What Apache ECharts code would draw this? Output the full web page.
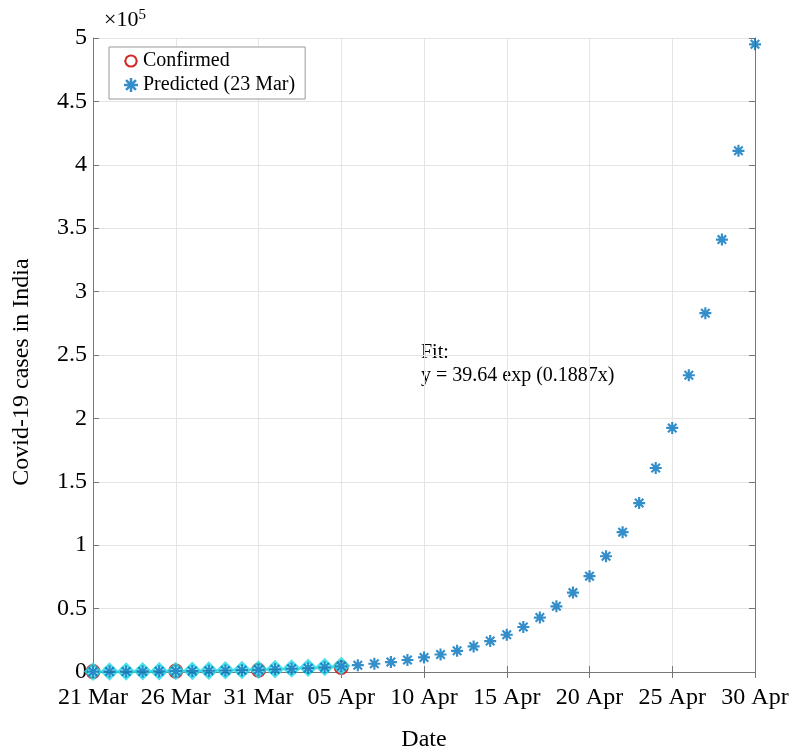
<!DOCTYPE html>
<html><head><meta charset="utf-8">
<script src="https://cdn.jsdelivr.net/npm/echarts@6/dist/echarts.min.js"></script>
<style>html,body{margin:0;padding:0;background:#fff}#c{width:789px;height:751px}</style>
</head><body><div id="c"></div>
<script>
// Dates 21 Mar .. 30 Apr
const dates = ["21 Mar","22 Mar","23 Mar","24 Mar","25 Mar","26 Mar","27 Mar","28 Mar","29 Mar","30 Mar","31 Mar",
"01 Apr","02 Apr","03 Apr","04 Apr","05 Apr","06 Apr","07 Apr","08 Apr","09 Apr","10 Apr","11 Apr","12 Apr","13 Apr",
"14 Apr","15 Apr","16 Apr","17 Apr","18 Apr","19 Apr","20 Apr","21 Apr","22 Apr","23 Apr","24 Apr","25 Apr","26 Apr",
"27 Apr","28 Apr","29 Apr","30 Apr"];
const confirmed = [330,396,499,536,657,727,887,987,1024,1251,1397,1998,2543,2567,3082,3588];
const earlyFit = [300,360,430,520,620,750,900,1080,1300,1560,1880,2260,2720,3270,3930,4730];
const predicted = [260,320,380,460,560,670,810,980,1190,1430,1730,2090,2530,3050,3690,4450,5380,6500,7850,9480,
11500,13800,16700,20200,24400,29400,35500,42900,51800,62600,75600,91300,110300,133200,160900,192500,234000,283000,341000,411000,495000];
const yTicks = [0,0.5,1,1.5,2,2.5,3,3.5,4,4.5,5];

const FONT = '"Liberation Serif","DejaVu Serif",serif';
// asterisk symbol path (8 arms)
function starPath(){
  const w=0.09, L=0.5; let p='';
  for (const a of [0,45,90,135]) {
    const r=a*Math.PI/180, c=Math.cos(r), s=Math.sin(r);
    const pts=[[-L,-w],[L,-w],[L,w],[-L,w]].map(([x,y])=>[(x*c-y*s+0.5).toFixed(3),(x*s+y*c+0.5).toFixed(3)]);
    p+='M'+pts.map(q=>q.join(' ')).join(' L')+' Z ';
  }
  return 'path://'+p;
}
const STAR = starPath();
const chart = echarts.init(document.getElementById('c'));
const axisCol = '#777';
chart.setOption({
  animation:false,
  textStyle:{fontFamily:FONT},
  grid:{left:93,right:34,top:38,bottom:79,containLabel:false,outerBoundsMode:'none'},
  legend:{
    orient:'vertical', left:109, top:47, padding:[4,10,4,14], itemGap:4,
    borderColor:'#999', borderWidth:1, backgroundColor:'#fff',
    itemWidth:14, itemHeight:14,
    textStyle:{fontFamily:FONT,fontSize:20,color:'#000'},
    data:['Confirmed','Predicted (23 Mar)']
  },
  xAxis:[{
    type:'category', data:dates, boundaryGap:false,
    name:'Date', nameLocation:'middle', nameGap:56,
    nameTextStyle:{fontFamily:FONT,fontSize:24,color:'#000'},
    axisLine:{lineStyle:{color:axisCol}},
    axisTick:{inside:true, interval:4, length:6, lineStyle:{color:axisCol}},
    axisLabel:{interval:4, fontFamily:FONT, fontSize:24, color:'#000', margin:14},
    splitLine:{show:true, interval:4, lineStyle:{color:'#e4e4e4'}}
  },{
    type:'category', data:dates, boundaryGap:false, position:'top',
    axisLine:{lineStyle:{color:axisCol}},
    axisTick:{inside:true, interval:4, length:6, lineStyle:{color:axisCol}},
    axisLabel:{show:false}, splitLine:{show:false}
  }],
  yAxis:[{
    type:'value', min:0, max:500000, interval:50000,
    axisLine:{show:true,lineStyle:{color:axisCol}},
    axisTick:{show:true,inside:true,length:6,lineStyle:{color:axisCol}},
    axisLabel:{fontFamily:FONT,fontSize:24,color:'#000',margin:6,
      formatter:v=>{const t=yTicks[Math.round(v/50000)];return t===undefined?'':String(t);}},
    splitLine:{show:true,lineStyle:{color:'#e4e4e4'}}
  },{
    type:'value', min:0, max:500000, interval:50000, position:'right',
    axisLine:{show:true,lineStyle:{color:axisCol}},
    axisTick:{show:true,inside:true,length:6,lineStyle:{color:axisCol}},
    axisLabel:{show:false}, splitLine:{show:false}
  }],
  series:[
    {name:'Confirmed', type:'line', data:confirmed, symbol:'emptyCircle', symbolSize:13,
     lineStyle:{width:1,color:'#d95319',opacity:0.6}, itemStyle:{color:'#d62728',borderWidth:1.6}, z:2},
    {name:'Fit', type:'scatter', data:earlyFit, symbol:'diamond', symbolSize:15,
     itemStyle:{color:'rgba(0,230,240,0.3)',borderColor:'#22d8e6',borderWidth:2.5}, z:3},
    {name:'Predicted (23 Mar)', type:'scatter', data:predicted, symbol:STAR, symbolSize:12,
     itemStyle:{color:'#0072BD'}, z:4}
  ],
  graphic:[
    {type:'text', left:104, top:8, style:{rich:{a:{fontFamily:FONT,fontSize:22,fill:'#000'},s:{fontFamily:FONT,fontSize:15,fill:'#000',verticalAlign:'top',padding:[0,0,10,0]}}, text:'{a|×10}{s|5}'}},
    {type:'text', left:421, top:341, style:{text:'Fit:\ny = 39.64 exp (0.1887x)', fontFamily:FONT, fontSize:20, lineHeight:23, fill:'#000'}},
    {type:'text', x:22, y:372, rotation:Math.PI/2, style:{text:'Covid-19 cases in India', fontFamily:FONT, fontSize:24, fill:'#000', align:'center', verticalAlign:'middle'}}
  ]
});
</script></body></html>
